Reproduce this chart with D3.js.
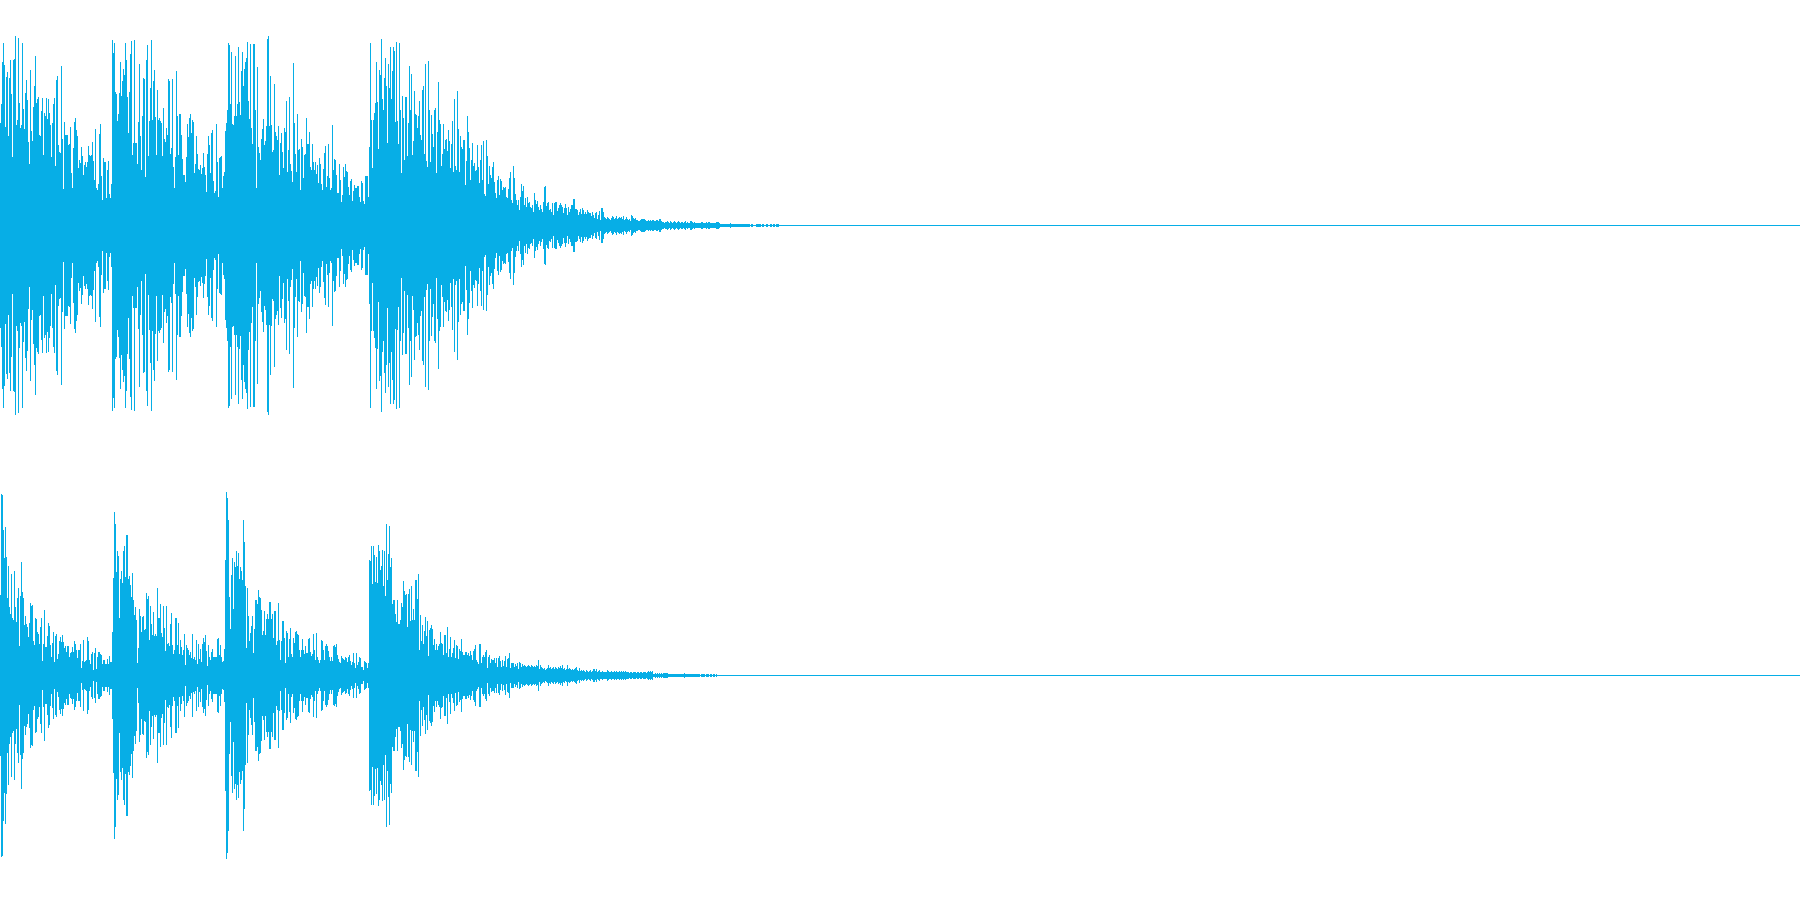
<!DOCTYPE html>
<html><head><meta charset="utf-8">
<script src="https://cdn.jsdelivr.net/npm/d3@7/dist/d3.min.js"></script>
<style>html,body{margin:0;padding:0;background:#fff;overflow:hidden}svg{display:block}</style>
</head><body><svg id="wave"></svg>
<script>
// Peak amplitude per column, upper channel
const leftPeaks = [
102,121,163,182,160,98,148,153,89,147,165,131,68,165,166,189,100,105,187,122,
97,100,182,116,96,132,145,125,83,61,155,94,84,118,139,169,122,126,128,90,
89,114,127,70,112,109,127,106,126,112,100,68,102,121,127,59,145,149,80,73,
72,159,86,36,103,90,90,90,80,81,98,52,37,77,103,107,95,89,57,65,
62,78,69,50,60,63,58,63,79,70,69,70,83,64,45,96,37,35,41,91,
101,49,25,67,63,63,27,55,64,31,27,41,185,172,182,133,131,104,111,132,
163,129,144,156,150,182,165,128,92,133,171,184,70,82,185,82,82,61,103,161,
89,55,109,147,146,48,165,180,69,104,137,185,105,144,155,108,70,135,105,107,
104,102,69,117,86,83,97,90,146,144,71,77,146,58,37,68,154,109,70,111,
111,90,66,50,50,43,68,101,88,107,111,92,105,103,52,61,89,71,56,55,
60,51,57,72,58,50,33,71,89,80,52,92,95,44,32,34,101,63,28,67,
68,69,37,49,53,94,102,115,182,180,121,173,101,100,109,169,109,121,178,123,
110,154,173,139,156,163,167,183,124,106,181,97,81,181,181,115,37,158,78,72,
65,86,96,106,80,84,99,186,189,99,149,100,73,75,141,93,89,85,99,50,
82,92,73,57,97,93,124,53,75,128,61,54,43,162,102,71,53,111,75,76,
35,86,78,47,70,71,107,81,81,93,58,55,81,63,55,63,51,60,42,67,
61,41,35,56,72,79,38,49,81,47,35,37,100,55,66,65,50,32,32,61,
45,23,30,58,48,61,54,53,38,30,44,46,24,34,40,37,37,39,39,28,
23,44,42,24,21,49,49,49,28,78,182,105,57,105,112,122,163,123,76,155,
150,186,126,115,147,167,139,82,161,137,178,126,154,178,174,103,183,104,81,182,
115,52,129,107,65,128,128,69,102,159,115,151,70,84,134,111,110,97,109,124,
90,85,135,139,71,161,64,58,164,115,63,110,91,78,115,117,52,93,143,105,
101,59,71,101,76,85,86,74,95,84,57,81,104,53,126,59,55,134,96,53,
89,78,76,85,85,40,64,109,93,77,45,65,82,59,62,54,55,80,58,42,
65,80,45,84,31,29,85,69,41,59,50,47,58,63,43,32,27,45,49,30,
46,44,35,38,37,38,28,27,36,47,53,25,22,59,47,31,25,20,25,15,
28,41,34,39,20,27,18,28,22,23,18,17,20,13,32,25,21,24,18,15,
20,16,13,23,38,39,19,22,23,15,16,13,22,10,22,23,23,14,17,20,
22,20,18,12,17,21,17,10,18,13,16,20,20,26,26,16,16,15,10,13,
16,11,17,15,11,13,11,15,13,12,12,9,13,10,7,12,13,6,10,14,
5,17,17,13,8,7,6,8,7,6,5,7,9,8,6,7,9,6,7,8,
7,8,6,9,5,6,8,6,5,6,4,10,9,7,6,7,5,5,4,4,
5,6,6,6,6,5,4,4,5,4,5,4,5,5,4,4,5,5,4,6,
6,4,3,3,2,3,3,4,3,2,4,3,2,3,4,3,2,3,4,3,
2,3,3,2,3,4,2,3,2,2,4,4,3,2,3,2,2,2,2,2,
2,3,3,2,2,2,3,2,3,3,2,2,2,2,2,2,3,3,3,2,
1,1,1,1,1,1,1,1,1,1,2,1,1,1,1,1,1,1,1,1,
1,1,1,1,1,1,1,1,1,1,0,1,1,0,0,0,1,1,1,1,
1,0,1,1,0,0,1,1,0,0,1,1,0,1,1,0,1,1,1
];
// Peak amplitude per column, lower channel
const rightPeaks = [
80,181,180,145,117,148,118,77,109,68,61,101,57,55,104,68,53,77,87,29,
79,113,83,77,50,59,51,48,38,52,72,69,70,34,30,57,56,43,41,31,
48,57,14,31,65,28,28,39,52,49,30,18,32,43,13,39,41,16,21,34,
38,33,40,33,27,29,23,29,29,18,22,23,28,23,34,31,25,17,25,25,
31,7,14,35,13,14,15,38,34,15,11,21,23,5,22,27,6,18,23,23,
21,20,11,15,15,11,11,16,11,19,13,13,43,97,163,151,103,124,119,57,
96,104,92,124,129,98,140,140,96,99,90,78,102,75,60,68,55,12,27,66,
59,43,58,59,45,46,82,76,79,35,69,51,40,63,39,41,39,87,57,57,
71,42,38,69,47,24,69,31,32,29,51,62,30,21,25,57,57,30,52,21,
35,28,20,25,41,10,30,27,25,20,23,17,41,16,18,15,35,11,31,16,
26,13,31,37,33,40,24,9,30,18,15,23,26,18,18,18,18,36,37,20,
30,18,13,14,26,115,183,177,155,78,46,100,117,66,113,108,124,109,122,96,
108,104,95,155,133,89,27,87,59,34,42,49,59,22,46,75,75,71,85,78,
77,65,40,44,64,40,56,61,56,73,73,56,61,37,64,64,30,34,72,35,
15,34,54,54,37,12,44,42,18,36,47,21,18,37,32,43,44,41,40,25,
18,25,36,25,21,29,22,22,36,37,23,19,21,41,25,15,42,18,15,12,
15,35,34,25,15,29,31,29,24,18,14,18,14,29,30,28,31,20,16,13,
12,19,17,16,15,18,17,13,18,20,14,10,13,22,12,7,22,10,13,18,
17,8,8,5,14,13,12,7,12,115,114,129,91,129,120,93,118,92,130,124,
105,109,125,89,124,79,151,95,121,149,108,117,71,75,75,61,53,75,51,51,
55,72,68,94,84,80,81,48,81,86,54,89,55,66,55,95,95,76,101,25,
60,34,50,31,44,58,39,54,19,45,47,50,46,30,36,25,31,25,29,31,
43,32,31,20,40,40,22,48,18,26,38,18,22,27,35,17,30,29,16,26,
24,36,23,20,20,23,23,20,22,19,24,20,15,24,26,30,15,13,11,31,
31,12,18,20,18,23,25,7,18,20,12,16,15,15,17,12,17,8,17,19,
14,8,15,9,14,19,8,16,17,22,7,12,12,12,8,11,9,12,6,13,
12,8,11,9,10,9,8,9,10,9,8,10,9,8,9,8,10,9,15,6,
10,8,7,6,7,5,6,7,10,7,8,6,7,8,6,8,7,6,8,7,
9,7,10,6,7,5,6,10,6,7,6,5,6,5,6,7,8,5,4,7,
4,5,4,5,4,3,5,4,3,4,5,3,4,6,6,4,6,3,4,5,
3,3,4,3,3,3,3,5,4,3,3,4,3,3,4,3,4,3,3,4,
3,4,3,4,3,4,3,3,3,2,3,3,2,3,3,3,2,3,3,2,
3,3,2,3,3,3,2,3,4,3,4,3,4,1,1,2,1,2,1,2,
1,2,1,2,2,2,2,2,1,1,1,1,1,1,1,1,1,1,1,1,
1,1,1,1,2,1,1,1,1,1,1,1,1,1,1,1,1,1,1,1,
0,1,1,1,1,0,1,1,1,0,1,1,0,1,1,0,1
];
const columns = 1800;
const fullScale = 225;
const waveColor = "#07aee6";

const W = 1800, H = 900;
const svg = d3.select("#wave").attr("width", W).attr("height", H);
svg.append("rect").attr("width", W).attr("height", H).attr("fill", "#fff");

const x = d3.scaleLinear().domain([0, columns]).range([0, W]);
const channels = [
  {name: "left", peaks: leftPeaks, band: [0, 450]},
  {name: "right", peaks: rightPeaks, band: [450, 900]}
];

channels.forEach(ch => {
  const y = d3.scaleLinear().domain([fullScale, -fullScale]).range(ch.band);
  const g = svg.append("g").attr("class", ch.name)
    .attr("fill", waveColor).attr("shape-rendering", "crispEdges");
  g.selectAll("rect.col").data(ch.peaks).join("rect")
    .attr("class", "col")
    .attr("x", (d, i) => x(i))
    .attr("width", x(1) - x(0))
    .attr("y", d => y(d))
    .attr("height", d => y(-d) - y(d) + 1);
  // silent remainder of the track: the zero line
  g.append("rect")
    .attr("x", x(ch.peaks.length))
    .attr("width", x(columns) - x(ch.peaks.length))
    .attr("y", y(0)).attr("height", 1);
});
</script></body></html>
